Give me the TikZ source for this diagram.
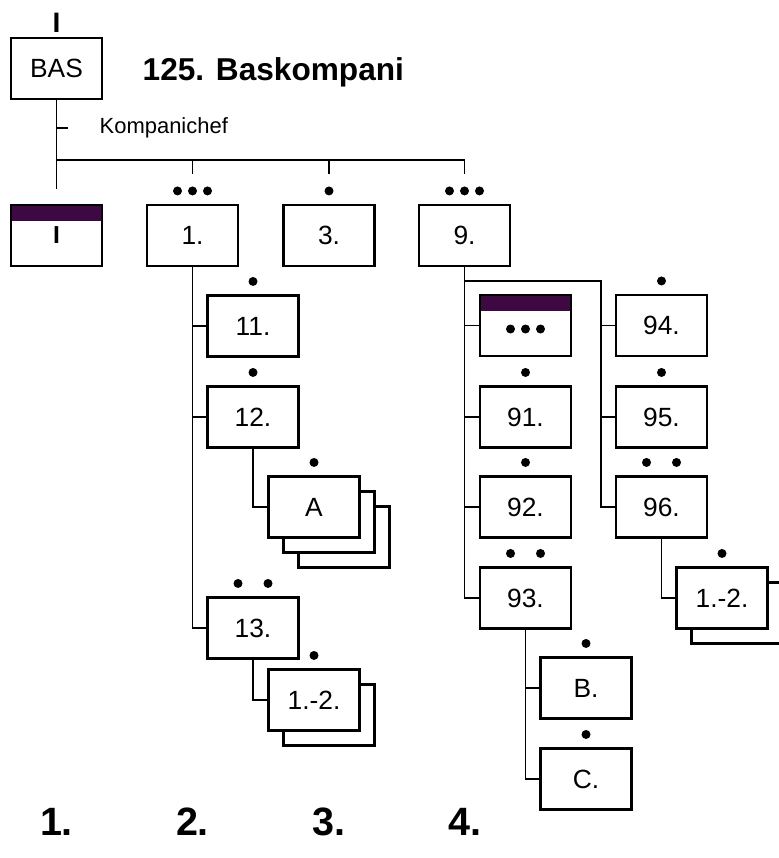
\documentclass[tikz,border=0pt]{standalone}
\usepackage{fontspec}
\setmainfont{Liberation Sans}
\usetikzlibrary{shadows}
\definecolor{hqplum}{RGB}{62,8,66}

\begin{document}
\begin{tikzpicture}[x=0.02cm,y=-0.02cm,line width=0.8pt,
		unit/.style={rectangle,draw,line width=1.2pt,fill=white,minimum width=1.82cm,minimum height=1.22cm,font=\fontsize{15}{18}\selectfont},
		hq/.style={unit,path picture={\fill[hqplum] (path picture bounding box.north west) rectangle ([yshift=-0.31cm]path picture bounding box.north east);}},
		stacktwo/.style={double copy shadow={shadow xshift=0.3cm,shadow yshift=-0.3cm,line width=1.2pt}},
		stackone/.style={copy shadow={shadow xshift=0.3cm,shadow yshift=-0.3cm,line width=1.2pt}},
		lvl/.style={font=\fontsize{22.5}{26}\selectfont\bfseries,anchor=base}]
		\useasboundingbox (0,0) rectangle (778,858);
		% top of the tree
		\node[unit] (bas) at (56.5,68.5) {BAS};
		\node[font=\fontsize{16}{18}\selectfont\bfseries,anchor=base,inner sep=0pt] (size) at (56.5,33) {I};
		\node[font=\fontsize{18}{20}\selectfont\bfseries,anchor=west,inner sep=0pt] (title) at (142,72) {125. Baskompani};
		\node[hq,font=\fontsize{14}{16}\selectfont\bfseries] (hq1) at (56.5,235.5) {I};
		\node[unit] (b1) at (192.5,235.5) {1.};
		\node[unit] (b3) at (329,235.5) {3.};
		\node[unit] (b9) at (464.5,235.5) {9.};
		% column 2
		\node[unit] (b11) at (253,326) {11.};
		\node[unit] (b12) at (253,417) {12.};
		\node[unit,stacktwo] (bA) at (314,507) {A};
		\node[unit] (b13) at (253,628) {13.};
		\node[unit,stackone] (b13s) at (314,700) {1.-2.};
		% column 4
		\node[hq] (hq9) at (525.5,325.5) {};
		\node[unit] (b91) at (525.5,417) {91.};
		\node[unit] (b92) at (525.5,507) {92.};
		\node[unit] (b93) at (525.5,598) {93.};
		\node[unit] (b94) at (661.5,325.5) {94.};
		\node[unit] (b95) at (661.5,417) {95.};
		\node[unit] (b96) at (661.5,507) {96.};
		\node[unit,stackone] (b96s) at (722,598) {1.-2.};
		\node[unit] (bB) at (586,688) {B.};
		\node[unit] (bC) at (586,779) {C.};
		
		% connectors
		\coordinate (kc) at (56.5,128);
		\coordinate (bus) at (56.5,160);
		\draw (bas.south) -- ([yshift=0.3cm]hq1.north);
		\draw (kc) -- ++(11,0);
		\node[anchor=west,inner sep=0pt,font=\fontsize{12.5}{15}\selectfont] (kchef) at (99,128) {Kompanichef};
		\draw (bus) -- (bus -| b9) -- ([yshift=0.6cm]b9.north);
		\draw (bus -| b1) -- ([yshift=0.6cm]b1.north);
		\draw (bus -| b3) -- ([yshift=0.6cm]b3.north);
		
		\draw (b1.south) |- (b13.west);
		\draw (b1.south |- b11.west) -- (b11.west);
		\draw (b1.south |- b12.west) -- (b12.west);
		\draw (b12.south) |- (bA.west);
		\draw (b13.south) |- (b13s.west);
		
		\coordinate (fork) at (464.5,281);
		\coordinate (col) at (601,281);
		\draw (b9.south) |- (b93.west);
		\draw (b9.south |- hq9.west) -- (hq9.west);
		\draw (b9.south |- b91.west) -- (b91.west);
		\draw (b9.south |- b92.west) -- (b92.west);
		\draw (fork) -- (col) |- (b96.west);
		\draw (col |- b94.west) -- (b94.west);
		\draw (col |- b95.west) -- (b95.west);
		\draw (b96.south) |- (b96s.west);
		\draw (b93.south) |- (bC.west);
		\draw (b93.south |- bB.west) -- (bB.west);
		
		% strength dots
		\foreach \n in {b3,b11,b12,bA,b13s,b91,b92,b94,b95,b96s,bB,bC}
			\fill ([yshift=0.26cm]\n.north) circle (0.09cm);
		\foreach \n in {b1,b9}
			\foreach \dx in {-0.3,0,0.3}
				\fill ([shift={(\dx cm,0.26cm)}]\n.north) circle (0.09cm);
		\foreach \n in {b13,b93,b96}
			\foreach \dx in {-0.3,0.3}
				\fill ([shift={(\dx cm,0.26cm)}]\n.north) circle (0.09cm);
		\foreach \dx in {-0.3,0,0.3}
			\fill ([shift={(\dx cm,-0.07cm)}]hq9.center) circle (0.09cm);
		
		% levels
		\node[lvl] (lvl1) at (56.5,835) {1.};
		\node[lvl] (lvl2) at (192.5,835) {2.};
		\node[lvl] (lvl3) at (329,835) {3.};
		\node[lvl] (lvl4) at (464.5,835) {4.};
	\end{tikzpicture}
\end{document}
